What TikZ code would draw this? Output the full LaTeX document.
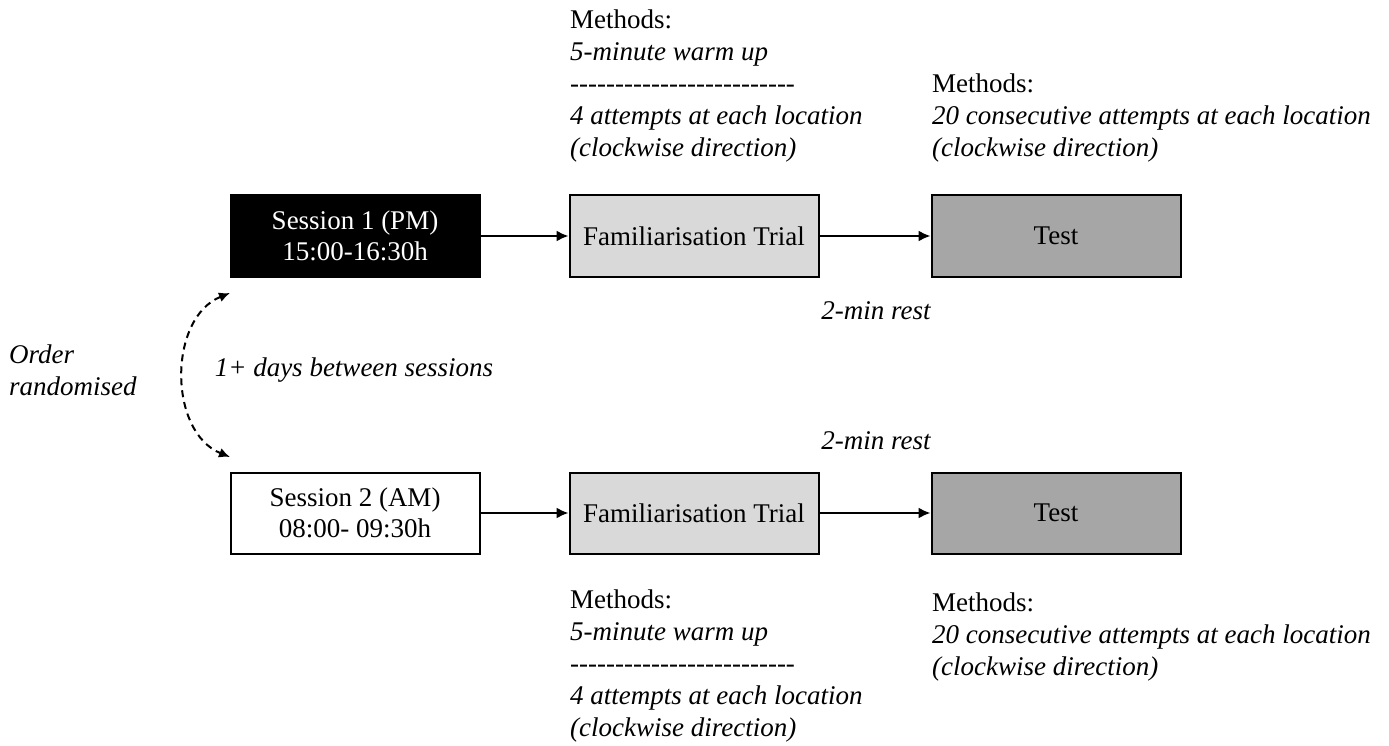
\documentclass[tikz,border=0pt]{standalone}
\usepackage{fontspec}
\setmainfont{Liberation Serif}
\usetikzlibrary{arrows.meta}
\definecolor{ftgray}{HTML}{D9D9D9}
\definecolor{testgray}{HTML}{A6A6A6}
\newcommand\hyrule{-{}-{}-{}-{}-{}-{}-{}-{}-{}-{}-{}-{}-{}-{}-{}-{}-{}-{}-{}-{}-{}-{}-{}-{}-{}}
\begin{document}
\begin{tikzpicture}[x=1pt,y=-1pt,
  box/.style={draw=black, line width=2pt, minimum width=249pt, minimum height=81pt,
    inner sep=0pt, align=center, font=\fontsize{27}{31}\selectfont},
  ann/.style={font=\fontsize{27}{32}\selectfont\itshape, inner sep=0pt, align=left},
  conn/.style={line width=2pt, -{Latex[length=12pt,width=11pt]}},
  dconn/.style={line width=2pt, dash pattern=on 7pt off 5pt, {Latex[length=11pt,width=10pt]}-{Latex[length=11pt,width=10pt]}},
]
\useasboundingbox (0,0) rectangle (1389,746);
% boxes
\node[box, fill=black, text=white] (s1) at (355,236) {Session 1 (PM)\\15:00-16:30h};
\node[box, fill=ftgray] (f1) at (694,236) {Familiarisation Trial};
\node[box, fill=testgray] (t1) at (1056,236) {Test};
\node[box, fill=white] (s2) at (355,513) {Session 2 (AM)\\08:00- 09:30h};
\node[box, fill=ftgray] (f2) at (694,513) {Familiarisation Trial};
\node[box, fill=testgray] (t2) at (1056,513) {Test};
% connectors
\draw[conn] (s1) -- (f1);
\draw[conn] (f1) -- (t1);
\draw[conn] (s2) -- (f2);
\draw[conn] (f2) -- (t2);
\coordinate (ca) at (230,293);
\coordinate (cb) at (230,457);
\draw[dconn] (ca) .. controls (168,318) and (168,432) .. (cb);
% annotations
\node[ann, anchor=west] (order) at (9,370) {Order\\randomised};
\node[ann] (days) at (354,370) {1+ days between sessions};
\node[ann] (rest1) at (876,311) {2-min rest};
\node[ann] (rest2) at (876,441) {2-min rest};
\node[ann, anchor=west] (m1) at (570,86) {{\upshape Methods:}\\5-minute warm up\\\hyrule\\4 attempts at each location\\(clockwise direction)};
\node[ann, anchor=west] (m2) at (932,118) {{\upshape Methods:}\\20 consecutive attempts at each location\\(clockwise direction)};
\node[ann, anchor=west] (m3) at (570,666) {{\upshape Methods:}\\5-minute warm up\\\hyrule\\4 attempts at each location\\(clockwise direction)};
\node[ann, anchor=west] (m4) at (932,637) {{\upshape Methods:}\\20 consecutive attempts at each location\\(clockwise direction)};
\end{tikzpicture}
\end{document}
